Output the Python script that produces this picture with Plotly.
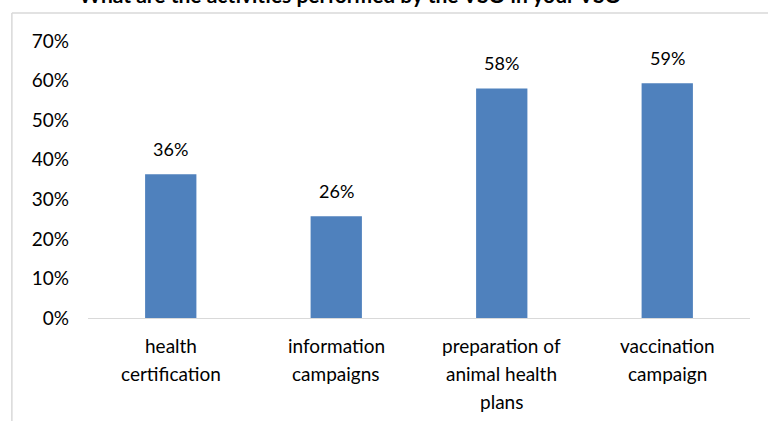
import plotly.graph_objects as go

categories = ["health<br>certification", "information<br>campaigns",
              "preparation of<br>animal health<br>plans", "vaccination<br>campaign"]
values = [0.363, 0.257, 0.580, 0.593]
labels = ["36%", "26%", "58%", "59%"]
title_text = "What are the activities performed by the VSO in your VSO"

FONT = "Lato, Open Sans, sans-serif"

fig = go.Figure()
fig.add_trace(go.Bar(x=categories, y=values, marker=dict(color="#4f81bd", line=dict(width=0)),
                     hoverinfo="skip"))

annotations = [dict(x=c, y=v, text=t, showarrow=False, xref="x", yref="y",
                    yanchor="bottom", yshift=12, font=dict(size=18, color="#000", family=FONT))
               for c, v, t in zip(categories, values, labels)]
# category labels, one annotation per line for Excel-like line spacing
for c in categories:
    for i, line in enumerate(c.split("<br>")):
        annotations.append(dict(x=c, y=0, xref="x", yref="paper", text=line, showarrow=False,
                                yanchor="middle", yshift=-27 - 28 * i,
                                font=dict(size=19, color="#000", family=FONT)))
annotations.append(dict(x=0.396, y=1.116, xref="paper", yref="paper", text="<b>" + title_text + "</b>",
                        showarrow=False, yanchor="bottom", xanchor="center",
                        font=dict(size=21, color="#000", family=FONT)))

border = dict(color="#d9d9d9", width=1.5)
fig.update_layout(
    width=768, height=421,
    margin=dict(l=88, r=18, t=41, b=103),
    paper_bgcolor="white", plot_bgcolor="white",
    bargap=0.69,
    showlegend=False,
    annotations=annotations,
    font=dict(family=FONT, size=19, color="#000"),
    xaxis=dict(showgrid=False, showline=True, linecolor="#d9d9d9", linewidth=1,
               ticks="", showticklabels=False, automargin=False),
    yaxis=dict(range=[0, 0.7], dtick=0.1, tickformat=".0%", showgrid=False,
               zeroline=False, showline=False, ticks="", tickfont=dict(size=19),
               ticklabelstandoff=18, automargin=False),
    shapes=[dict(type="line", xref="paper", yref="paper", x0=-0.115, x1=1.1, y0=1.101, y1=1.101,
                 line=border, layer="below"),
            dict(type="line", xref="paper", yref="paper", x0=-0.115, x1=-0.115, y0=-0.5, y1=1.101,
                 line=border, layer="below")],
)

fig.write_html("out.html", config={"displayModeBar": False},
               post_script="document.body.style.margin='0';document.body.style.overflow='hidden';")
